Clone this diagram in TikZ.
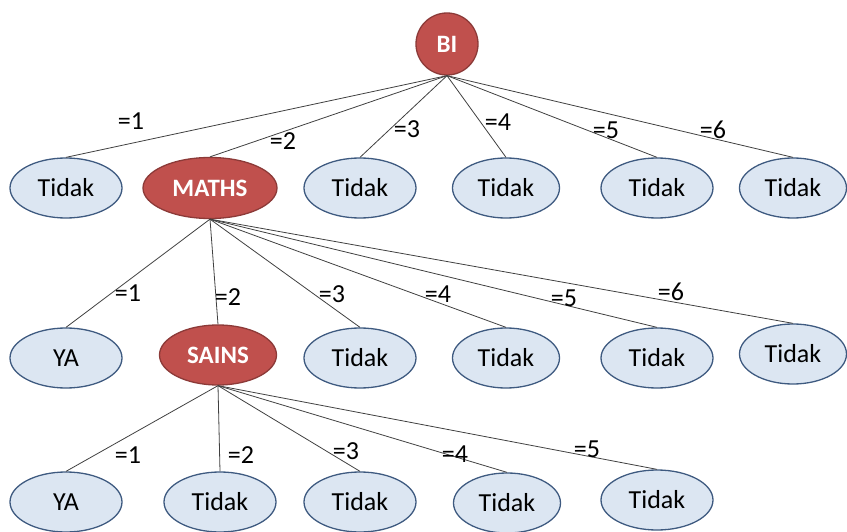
\documentclass[tikz,border=0pt]{standalone}
\usepackage{fontspec}
\setmainfont{Carlito}
\usetikzlibrary{shapes.geometric}
\definecolor{tidakfill}{HTML}{DCE6F2}
\definecolor{tidakdraw}{HTML}{3E5A80}
\definecolor{subjfill}{HTML}{C0504D}
\definecolor{subjdraw}{HTML}{8C3A38}
\definecolor{edgecol}{HTML}{404040}
\begin{document}
\begin{tikzpicture}[x=1pt,y=-1pt,
	every node/.style={font=\fontsize{26}{29}\selectfont, inner sep=0pt},
	ans/.style={ellipse, draw=tidakdraw, fill=tidakfill, line width=1.3pt, minimum width=112pt, minimum height=60pt},
	subj/.style={ellipse, draw=subjdraw, fill=subjfill, line width=1.3pt, text=white, font=\fontsize{25}{28}\selectfont\bfseries},
	branch/.style={draw=edgecol, line width=0.8pt},
	val/.style={text=black}]
		
		\useasboundingbox (0,0) rectangle (847,532);
		
		% top level
		\node[subj, circle, minimum size=62pt] (bi) at (447,44) {BI};
		
		% first level
		\node[ans] (a1) at (66,188) {Tidak};
		\node[subj, minimum width=134pt, minimum height=61pt] (maths) at (210,188) {MATHS};
		\node[ans] (a3) at (360,188) {Tidak};
		\node[ans, minimum width=107pt] (a4) at (506,188) {Tidak};
		\node[ans] (a5) at (657,188) {Tidak};
		\node[ans, minimum width=107pt] (a6) at (793,188) {Tidak};
		
		% second level
		\node[ans] (b1) at (66,358) {YA};
		\node[subj, minimum width=117pt, minimum height=60pt] (sains) at (218,355) {SAINS};
		\node[ans] (b3) at (360,358) {Tidak};
		\node[ans, minimum width=107pt] (b4) at (506,358) {Tidak};
		\node[ans] (b5) at (657,358) {Tidak};
		\node[ans, minimum width=107pt] (b6) at (793,354) {Tidak};
		
		% third level
		\node[ans] (c1) at (66,502) {YA};
		\node[ans] (c2) at (220,502) {Tidak};
		\node[ans] (c3) at (360,502) {Tidak};
		\node[ans, minimum width=107pt] (c4) at (507,503) {Tidak};
		\node[ans] (c5) at (657,500) {Tidak};
		
		% branches
		\foreach \n in {a1,maths,a3,a4,a5,a6}
			\draw[branch] (bi.south) -- (\n.north);
		\foreach \n in {b1,sains,b3,b4,b5,b6}
			\draw[branch] (maths.south) -- (\n.north);
		\foreach \n in {c1,c2,c3,c4,c5}
			\draw[branch] (sains.south) -- (\n.north);
		
		% branch values
		\foreach \v/\x/\y in {1/131/121, 2/283/141, 3/407/129, 4/498/122, 5/606/130, 6/713/130}
			\node[val] (va\v) at (\x,\y) {=\v};
		\foreach \v/\x/\y in {1/128/293, 2/228/297, 3/332/294, 4/438/294, 5/564/298, 6/671/292}
			\node[val] (vb\v) at (\x,\y) {=\v};
		\foreach \v/\x/\y in {1/128/455, 2/241/455, 3/346/451, 4/455/454, 5/587/449}
			\node[val] (vc\v) at (\x,\y) {=\v};
		
	\end{tikzpicture}
\end{document}
